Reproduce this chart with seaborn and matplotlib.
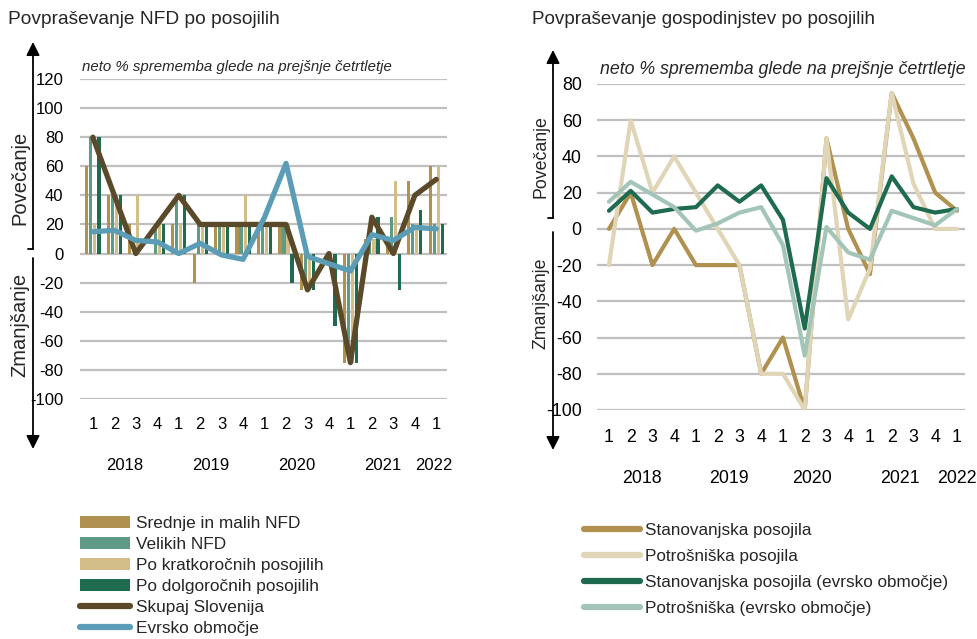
import matplotlib
matplotlib.use("Agg")
import matplotlib.pyplot as plt
from matplotlib import font_manager
from matplotlib.patches import Patch, FancyArrowPatch
from matplotlib.lines import Line2D
import matplotlib.transforms as mtransforms
import numpy as np
import pandas as pd
import seaborn as sns

# --- data -------------------------------------------------------------
quarter_labels = ["1", "2", "3", "4"] * 4 + ["1"]
years = ["2018", "2019", "2020", "2021", "2022"]
year_pos_left = [1.5, 5.5, 9.5, 13.5, 15.9]
year_pos_right = [1.5, 5.5, 9.35, 13.4, 16.0]

# levo: povpraševanje NFD
bar_names = ["Srednje in malih NFD", "Velikih NFD",
             "Po kratkoročnih posojilih", "Po dolgoročnih posojilih"]
srednje = [60, 40, 20, 0, 20, -20, 20, 20, 20, 20, -25, 0, -75, 10, 10, 50, 60]
velikih = [80, 40, 0, 20, 40, 20, 20, 20, 20, 20, -20, 0, -70, 10, 25, 20, 20]
kratko = [20, 40, 40, 20, 20, 20, 20, 40, 20, 20, -25, 0, -75, 10, 50, 20, 60]
dolgo = [80, 40, 0, 20, 40, 20, 20, 20, 20, -20, -25, -50, -75, 25, -25, 30, 20]

line_names_left = ["Skupaj Slovenija", "Evrsko območje"]
skupaj = [80, 40, 0, 20, 40, 20, 20, 20, 20, 20, -25, 0, -75, 25, 0, 40, 51]
evrsko = [15, 16, 9, 8, 0, 7, -1, -4, 25, 62, -2, -7, -12, 13, 9, 18, 17]

# desno: povpraševanje gospodinjstev
line_names_right = ["Stanovanjska posojila", "Potrošniška posojila",
                    "Stanovanjska posojila (evrsko območje)",
                    "Potrošniška (evrsko območje)"]
stan = [0, 20, -20, 0, -20, -20, -20, -80, -60, -100, 50, 0, -25, 75, 50, 20, 10]
potr = [-20, 60, 20, 40, 20, 0, -20, -80, -80, -100, 50, -50, -22, 75, 25, 0, 0]
stan_ea = [10, 21, 9, 11, 12, 24, 15, 24, 5, -55, 28, 9, 0, 29, 12, 9, 11]
potr_ea = [15, 26, 19, 12, -1, 3, 9, 12, -9, -70, 1, -13, -17, 10, 6, 2, 11]

bar_colors = ["#B0914F", "#5E9A86", "#D3BD88", "#1E6B4F"]
left_line_colors = ["#5A4A29", "#5B9DB7"]
right_line_colors = ["#B0914F", "#E1D5B7", "#1E6B4F", "#A3C5B8"]

pos = list(range(len(quarter_labels)))

bars_df = pd.DataFrame({
    "pos": pos * 4,
    "value": srednje + velikih + kratko + dolgo,
    "series": sum([[n] * len(pos) for n in bar_names], []),
})
left_lines_df = pd.DataFrame({
    "pos": pos * 2,
    "value": skupaj + evrsko,
    "series": sum([[n] * len(pos) for n in line_names_left], []),
})
right_lines_df = pd.DataFrame({
    "pos": pos * 4,
    "value": stan + potr + stan_ea + potr_ea,
    "series": sum([[n] * len(pos) for n in line_names_right], []),
})

# --- style ------------------------------------------------------------
sns.set_theme(style="white")
installed = {f.name for f in font_manager.fontManager.ttflist}
if "Liberation Sans Narrow" in installed:
    NARROW, k = "Liberation Sans Narrow", 1.22
else:
    NARROW, k = "Liberation Sans", 1.0
plt.rcParams["font.family"] = [NARROW, "DejaVu Sans"]
plt.rcParams["axes.unicode_minus"] = False
GRID = "#BFBFBF"

W, H = 978, 639
fig = plt.figure(figsize=(W / 100, H / 100), dpi=100)


def fx(px):
    return px / W


def fy(py):
    return 1 - py / H


ax1 = fig.add_axes([fx(80), fy(399), fx(447 - 80), (399 - 79) / H])
ax2 = fig.add_axes([fx(597), fy(410), fx(965 - 597), (410 - 84) / H])

# left chart
sns.barplot(data=bars_df, x="pos", y="value", hue="series", hue_order=bar_names,
            palette=bar_colors, native_scale=True, width=0.75, gap=0.2,
            errorbar=None, saturation=1, linewidth=0, legend=False, ax=ax1,
            zorder=2)
sns.lineplot(data=left_lines_df, x="pos", y="value", hue="series",
             hue_order=line_names_left, palette=left_line_colors,
             linewidth=3.8, legend=False, ax=ax1, zorder=3)
ax1.set_ylim(-100, 120)
ax1.set_yticks(range(-100, 121, 20))
ax1.set_xlim(-0.6, 16.5)

# right chart
sns.lineplot(data=right_lines_df, x="pos", y="value", hue="series",
             hue_order=line_names_right, palette=right_line_colors,
             linewidth=3.0, legend=False, ax=ax2, zorder=3)
ax2.set_ylim(-100, 80)
ax2.set_yticks(range(-100, 81, 20))
ax2.set_xlim(-0.55, 16.37)

for ax, ypos, tfs, pad_y, pad_x in [(ax1, year_pos_left, 12.0, 12, 13),
                                     (ax2, year_pos_right, 12.8, 11, 14)]:
    for s in ax.spines.values():
        s.set_visible(False)
    ax.set_axisbelow(True)
    ax.yaxis.grid(True, color=GRID, linewidth=1.6)
    ax.xaxis.grid(False)
    ax.set_xticks(pos)
    ax.set_xticklabels(quarter_labels)
    ax.tick_params(axis="y", length=0, labelsize=tfs * k, pad=pad_y, colors="black")
    ax.tick_params(axis="x", length=0, labelsize=tfs * k, pad=pad_x, colors="black")
    ax.set_xlabel("")
    ax.set_ylabel("")
    tr = mtransforms.blended_transform_factory(ax.transData, ax.transAxes)
    for yr, p in zip(years, ypos):
        ax.text(p, -0.209, yr, transform=tr, ha="center", va="center",
                fontsize=tfs * k, color="black")

# titles and subtitles
fig.text(fx(8), fy(20), "Povpraševanje NFD po posojilih", ha="left", va="center",
         fontsize=13.8, family=["Liberation Sans", "DejaVu Sans"])
fig.text(fx(532), fy(20), "Povpraševanje gospodinjstev po posojilih", ha="left",
         va="center", fontsize=13.6, family=["Liberation Sans", "DejaVu Sans"])
fig.text(fx(82), fy(67), "neto % sprememba glede na prejšnje četrtletje",
         ha="left", va="center", fontsize=10.8 * k, style="italic")
fig.text(fx(600), fy(69), "neto % sprememba glede na prejšnje četrtletje",
         ha="left", va="center", fontsize=12.8 * k, style="italic")

# arrows on the side
def side_arrow(x, y_split_top, y_split_bot, y_top, y_bot):
    for ya, yb in [(y_split_top, y_top), (y_split_bot, y_bot)]:
        fig.add_artist(FancyArrowPatch((fx(x), fy(ya)), (fx(x), fy(yb)),
                                       transform=fig.transFigure,
                                       arrowstyle="-|>", mutation_scale=20,
                                       color="black", linewidth=1.3,
                                       shrinkA=0, shrinkB=0))
    fig.add_artist(Line2D([fx(x - 5), fx(x)], [fy(y_split_top)] * 2,
                          transform=fig.transFigure, color="black", lw=1.3))


side_arrow(33, 249, 258, 42, 449)
side_arrow(553, 218, 232, 50, 450)
for x, yp, yz, lfs in [(20, 178, 325, 14.5), (541, 157, 303, 12.8)]:
    fig.text(fx(x), fy(yp), "Povečanje", rotation=90, ha="center", va="center",
             fontsize=lfs * k)
    fig.text(fx(x), fy(yz), "Zmanjšanje", rotation=90, ha="center", va="center",
             fontsize=lfs * k)

# legends
left_handles = [Patch(facecolor=c, edgecolor="none") for c in bar_colors] + \
    [Line2D([0], [0], color=c, lw=4.5, solid_capstyle="round")
     for c in left_line_colors]
fig.legend(left_handles, bar_names + line_names_left, loc="upper left",
           bbox_to_anchor=(fx(80), fy(516)), frameon=False, fontsize=12.4 * k,
           handlelength=2.9, handleheight=0.7, handletextpad=0.35,
           labelspacing=0.34, borderpad=0, borderaxespad=0)

right_handles = [Line2D([0], [0], color=c, lw=4.5, solid_capstyle="round")
                 for c in right_line_colors]
fig.legend(right_handles, line_names_right, loc="upper left",
           bbox_to_anchor=(fx(584), fy(523)), frameon=False, fontsize=12.3 * k,
           handlelength=3.3, handletextpad=0.3, labelspacing=0.64,
           borderpad=0, borderaxespad=0)

fig.savefig("out.png", dpi=100)
